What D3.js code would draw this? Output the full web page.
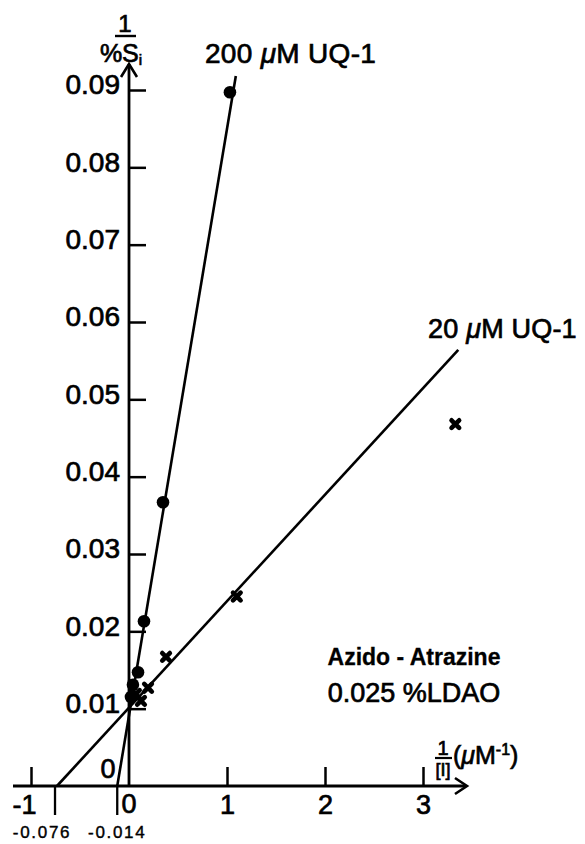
<!DOCTYPE html>
<html><head><meta charset="utf-8">
<script src="https://cdn.jsdelivr.net/npm/d3@7"></script>
<style>
html,body{margin:0;padding:0;background:#fff;}
svg{display:block;font-family:"Liberation Sans",Arial,sans-serif;}
svg text{fill:#000;stroke:#000;stroke-width:0.7px;}
</style></head>
<body><svg id="c" width="585" height="844"></svg>
<script>
// ---- data ----
const xTicks = [-1, 1, 2, 3];
const xTickLabels = ["-1", "1", "2", "3"];
const yTicks = [0.01, 0.02, 0.03, 0.04, 0.05, 0.06, 0.07, 0.08, 0.09];
const yTickLabels = ["0.01", "0.02", "0.03", "0.04", "0.05", "0.06", "0.07", "0.08", "0.09"];
// 200 uM UQ-1 (filled circles)
const uq200X = [1.03, 0.347, 0.153, 0.092, 0.04, 0.02];
const uq200Y = [0.0897, 0.0367, 0.0213, 0.0147, 0.0131, 0.0115];
// 20 uM UQ-1 (crosses)
const uq20X = [3.33, 1.10, 0.378, 0.194, 0.122, 0.07];
const uq20Y = [0.0468, 0.0245, 0.0167, 0.0127, 0.0110, 0.0119];
// fitted lines (end points)
const fit200 = [[-0.12, 0], [1.09, 0.0918]];
const fit20 = [[-0.735, 0], [3.36, 0.0564]];
// x intercept annotations
const interceptX = [-0.755, -0.12];
const interceptLabels = ["-0.076", "-0.014"];

// ---- scales ----
const svg = d3.select("#c");
const x = d3.scaleLinear().domain([-1, 3]).range([31, 423]);
const y = d3.scaleLinear().domain([0, 0.09]).range([786, 90]);
const ink = "#000";

// axes lines with arrows
svg.append("line").attr("x1", 13).attr("x2", 466).attr("y1", y(0)).attr("y2", y(0))
  .attr("stroke", ink).attr("stroke-width", 2.8);
svg.append("path").attr("d", `M${455},${y(0)-8} L${467},${y(0)} L${455},${y(0)+8}`)
  .attr("fill", "none").attr("stroke", ink).attr("stroke-width", 2.6);
svg.append("line").attr("x1", x(0)).attr("x2", x(0)).attr("y1", y(0)).attr("y2", 64)
  .attr("stroke", ink).attr("stroke-width", 2.8);
svg.append("path").attr("d", `M${x(0)-8},${77} L${x(0)},${64} L${x(0)+8},${77}`)
  .attr("fill", "none").attr("stroke", ink).attr("stroke-width", 2.6);

// y axis ticks (inward to right)
const yAxis = d3.axisLeft(y).tickValues(yTicks).tickSizeInner(-17).tickSizeOuter(0)
  .tickPadding(9).tickFormat((d, i) => yTickLabels[i]);
const gy = svg.append("g").attr("transform", `translate(${x(0)},0)`).call(yAxis);
gy.select(".domain").remove();
gy.selectAll(".tick line").attr("stroke", ink).attr("stroke-width", 2.5);
gy.selectAll(".tick text").attr("fill", ink).attr("font-size", 28)
  .attr("font-family", "Liberation Sans, Arial, sans-serif").attr("dy", "0.14em");

// x axis ticks (upward)
const xAxis = d3.axisBottom(x).tickValues(xTicks).tickSizeInner(-19).tickSizeOuter(0)
  .tickPadding(9).tickFormat((d, i) => xTickLabels[i]);
const gx = svg.append("g").attr("transform", `translate(0,${y(0)})`).call(xAxis);
gx.select(".domain").remove();
gx.selectAll(".tick line").attr("stroke", ink).attr("stroke-width", 2.5);
gx.selectAll(".tick text").attr("fill", ink).attr("font-size", 27)
  .attr("font-family", "Liberation Sans, Arial, sans-serif")
  .attr("text-anchor", d => d < 0 ? "end" : "middle")
  .attr("dx", d => d < 0 ? 5 : 0);
// "0" labels
svg.append("text").attr("x", x(0)).attr("y", 813).attr("text-anchor", "middle")
  .attr("font-size", 27).text("0");
svg.append("text").attr("x", x(0) - 21).attr("y", 778).attr("text-anchor", "middle")
  .attr("font-size", 27).text("0");

// fitted lines
const line = d3.line().x(d => x(d[0])).y(d => y(d[1]));
[fit200, fit20].forEach(f => {
  svg.append("path").attr("d", line(f)).attr("fill", "none").attr("stroke", ink).attr("stroke-width", 2.6);
});
// intercept drop lines & labels
interceptX.forEach((v, i) => {
  svg.append("line").attr("x1", x(v)).attr("x2", x(v)).attr("y1", y(0)).attr("y2", 815)
    .attr("stroke", ink).attr("stroke-width", 2.3);
  svg.append("text").attr("x", x(v) + (i === 0 ? -13 : 0)).attr("y", 838).attr("text-anchor", "middle")
    .attr("font-size", 17).attr("letter-spacing", 1.7).style("stroke-width", "0.4px").text(interceptLabels[i]);
});

// points
svg.selectAll("circle.p200").data(uq200X.map((d, i) => [d, uq200Y[i]])).enter()
  .append("circle").attr("class", "p200")
  .attr("cx", d => x(d[0])).attr("cy", d => y(d[1])).attr("r", 6.3).attr("fill", ink);
const cs = 3.8;
svg.selectAll("path.p20").data(uq20X.map((d, i) => [d, uq20Y[i]])).enter()
  .append("path").attr("class", "p20")
  .attr("d", d => { const px = x(d[0]), py = y(d[1]);
    return `M${px-cs},${py-cs}L${px+cs},${py+cs}M${px-cs},${py+cs}L${px+cs},${py-cs}`; })
  .attr("stroke", ink).attr("stroke-width", 4.6).attr("stroke-linecap", "round");

// series labels
const mu = (sel, num) => {
  sel.append("tspan").text(num + " ");
  sel.append("tspan").attr("font-style", "italic").text("μ");
  sel.append("tspan").text("M UQ-1");
};
mu(svg.append("text").attr("x", 205).attr("y", 63).attr("font-size", 28).attr("letter-spacing", 0.3), "200");
mu(svg.append("text").attr("x", 428).attr("y", 338).attr("font-size", 27).attr("letter-spacing", 0.2), "20");

// annotation
svg.append("text").attr("x", 414).attr("y", 665).attr("text-anchor", "middle")
  .attr("font-size", 23).attr("font-weight", "bold").style("stroke-width", "0.3px").text("Azido - Atrazine");
svg.append("text").attr("x", 414).attr("y", 702).attr("text-anchor", "middle")
  .attr("font-size", 27).text("0.025 %LDAO");

// y axis title 1 / %S_i
svg.append("text").attr("x", 125).attr("y", 32).attr("text-anchor", "middle").attr("font-size", 24).text("1");
svg.append("line").attr("x1", 115).attr("x2", 136).attr("y1", 36).attr("y2", 36).attr("stroke", ink).attr("stroke-width", 2.4);
const yt = svg.append("text").attr("x", 121).attr("y", 62).attr("text-anchor", "middle").attr("font-size", 25);
yt.append("tspan").text("%S");
yt.append("tspan").attr("font-size", 15).attr("dy", 3).text("i");

// x axis title 1/[I] (μM^-1)
svg.append("text").attr("x", 443).attr("y", 755).attr("text-anchor", "middle").attr("font-size", 20).text("1");
svg.append("line").attr("x1", 435).attr("x2", 452).attr("y1", 758).attr("y2", 758).attr("stroke", ink).attr("stroke-width", 2.2);
svg.append("text").attr("x", 443).attr("y", 776).attr("text-anchor", "middle").attr("font-size", 18).text("[I]");
const xt = svg.append("text").attr("x", 453).attr("y", 764).attr("font-size", 25);
xt.append("tspan").text("(");
xt.append("tspan").attr("font-style", "italic").text("μ");
xt.append("tspan").text("M");
xt.append("tspan").attr("font-size", 16).attr("dy", -9).text("-1");
xt.append("tspan").attr("dy", 9).text(")");
</script></body></html>
